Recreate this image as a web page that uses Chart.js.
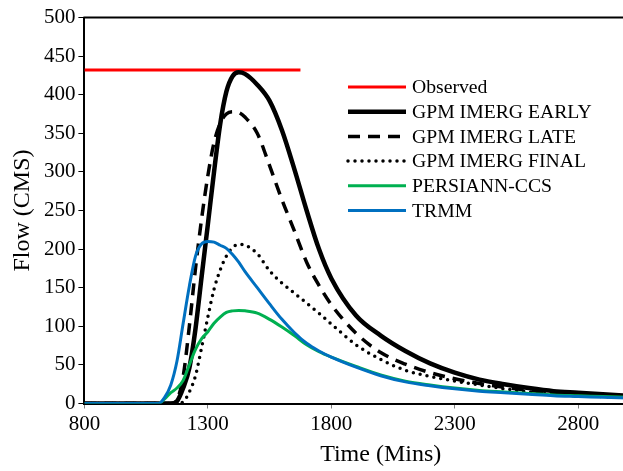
<!DOCTYPE html>
<html>
<head>
<meta charset="utf-8">
<script src="https://cdn.jsdelivr.net/npm/chart.js@4/dist/chart.umd.min.js"></script>
<style>
  html, body { margin: 0; padding: 0; background: #fff; overflow: hidden; }
  #wrap { width: 623px; height: 471px; overflow: hidden; }
  canvas { display: block; }
</style>
</head>
<body>
<div id="wrap"><canvas id="chart" width="677" height="471"></canvas></div>
<script>
const FONT = "'Liberation Serif', 'Times New Roman', serif";

// time axis (mins) shared by the simulated hydrographs
const times = [800, 1100, 1125, 1150, 1175, 1200, 1225, 1250, 1275, 1300, 1325, 1350, 1375, 1400, 1425,
  1450, 1500, 1550, 1600, 1650, 1700, 1750, 1800, 1900, 2000, 2100, 2200, 2300, 2400, 2500,
  2600, 2700, 2800, 2900, 3000];

const early = [0, 0, 0, 0, 3, 20, 46, 97, 165, 232, 300, 362, 404, 424, 429,
  427, 413, 392, 354, 304, 250, 200, 162, 114, 88, 68, 52, 40, 31, 25,
  20, 16, 14, 12, 10];
const late = [0, 0, 0, 0, 5, 35, 100, 175, 240, 295, 338, 363, 375, 378, 377,
  371, 350, 308, 264, 224, 183, 153, 128, 91, 66, 51, 40, 32, 26, 21,
  17, 14, 12, 10, 9];
const final = [0, 0, 0, 0, 0, 2, 15, 36, 73, 112, 148, 173, 191, 202, 206,
  205, 194, 172, 156, 143, 130, 117, 103, 76, 57, 43, 35, 29, 24, 19,
  15, 12, 10, 9, 8];
const persiann = [0, 0, 6, 14, 20, 30, 50, 70, 84, 93, 104, 112, 118, 120, 120.5,
  120, 117, 109, 99, 88, 76, 67, 60, 48, 37, 29, 24, 20, 17, 15,
  13, 11, 10, 9, 8];
const trmm = [0, 0, 8, 24, 55, 104, 152, 191, 207, 210, 209, 205, 201, 193, 183,
  171, 150, 129, 109, 92, 78, 68, 60, 47, 36, 28, 23, 19, 16, 14,
  12, 10, 9, 8, 7];

// observed peak drawn as a flat line
const obsTimes = [800, 1675];
const obsFlow = [432, 432];

const xTicks = [800, 1300, 1800, 2300, 2800];
const yTicks = [0, 50, 100, 150, 200, 250, 300, 350, 400, 450, 500];

const pts = (xs, ys) => xs.map((x, i) => ({ x: x, y: ys[i] }));

const series = [
  { label: "Observed", data: pts(obsTimes, obsFlow), color: "#ff0000", width: 3, dash: [] },
  { label: "GPM IMERG EARLY", data: pts(times, early), color: "#000000", width: 4.5, dash: [] },
  { label: "GPM IMERG LATE", data: pts(times, late), color: "#000000", width: 3.5, dash: [12, 8] },
  { label: "GPM IMERG FINAL", data: pts(times, final), color: "#000000", width: 3.5, dash: [0, 7], cap: "round" },
  { label: "PERSIANN-CCS", data: pts(times, persiann), color: "#00b050", width: 3, dash: [] },
  { label: "TRMM", data: pts(times, trmm), color: "#0070c0", width: 3, dash: [] }
];

const frameLine = {
  id: "frameLine",
  afterDraw(chart) {
    const { ctx, chartArea } = chart;
    ctx.save();
    ctx.strokeStyle = "#000";
    ctx.lineWidth = 2;
    ctx.beginPath();
    ctx.moveTo(chartArea.left - 1, chartArea.top);
    ctx.lineTo(chartArea.right, chartArea.top);
    ctx.stroke();
    ctx.restore();
  }
};

const boxLegend = {
  id: "boxLegend",
  afterDraw(chart) {
    const ctx = chart.ctx;
    const x0 = 348, x1 = 406, tx = 412, y0 = 87, step = 24.7;
    ctx.save();
    ctx.font = "19.7px " + FONT;
    ctx.textBaseline = "middle";
    ctx.textAlign = "left";
    chart.data.datasets.forEach((ds, i) => {
      const y = y0 + i * step;
      ctx.strokeStyle = ds.borderColor;
      ctx.lineWidth = ds.borderWidth;
      ctx.lineCap = ds.borderCapStyle || "butt";
      ctx.setLineDash(ds.borderDash || []);
      ctx.beginPath();
      ctx.moveTo(x0, y);
      ctx.lineTo(x1, y);
      ctx.stroke();
      ctx.setLineDash([]);
      ctx.fillStyle = "#000";
      ctx.fillText(ds.label, tx, y + 1);
    });
    ctx.restore();
  }
};

new Chart(document.getElementById("chart"), {
  type: "line",
  data: {
    datasets: series.map((s, i) => ({
      label: s.label,
      data: s.data,
      borderColor: s.color,
      borderWidth: s.width,
      borderDash: s.dash,
      borderCapStyle: s.cap || "butt",
      pointRadius: 0,
      fill: false,
      cubicInterpolationMode: "monotone",
      order: series.length - i
    }))
  },
  options: {
    responsive: false,
    animation: false,
    layout: { padding: { top: 17.5, right: 0, bottom: 0, left: 0 } },
    plugins: { legend: { display: false }, tooltip: { enabled: false } },
    scales: {
      x: {
        type: "linear",
        min: 800,
        max: 3200,
        afterBuildTicks: s => { s.ticks = xTicks.map(v => ({ value: v })); },
        afterFit: s => { s.height = 67.5; },
        border: { color: "#000", width: 2 },
        grid: { drawOnChartArea: false, tickLength: 5, color: "#7f7f7f" },
        ticks: { font: { family: FONT, size: 21 }, color: "#000", padding: 3, maxRotation: 0, autoSkip: false,
          callback: v => String(v) },
        title: { display: true, text: "Time (Mins)", color: "#000", font: { family: FONT, size: 24 }, padding: { top: 0, bottom: 2 } }
      },
      y: {
        min: 0,
        max: 500,
        afterBuildTicks: s => { s.ticks = yTicks.map(v => ({ value: v })); },
        afterFit: s => { s.width = 84.4; },
        border: { color: "#000", width: 2 },
        grid: { drawOnChartArea: false, tickLength: 6, color: "#000" },
        ticks: { font: { family: FONT, size: 21 }, color: "#000", padding: 3, callback: v => String(v) },
        title: { display: true, text: "Flow (CMS)", color: "#000", font: { family: FONT, size: 24 }, padding: { top: 8, bottom: 0 } }
      }
    }
  },
  plugins: [frameLine, boxLegend]
});
</script>
</body>
</html>
